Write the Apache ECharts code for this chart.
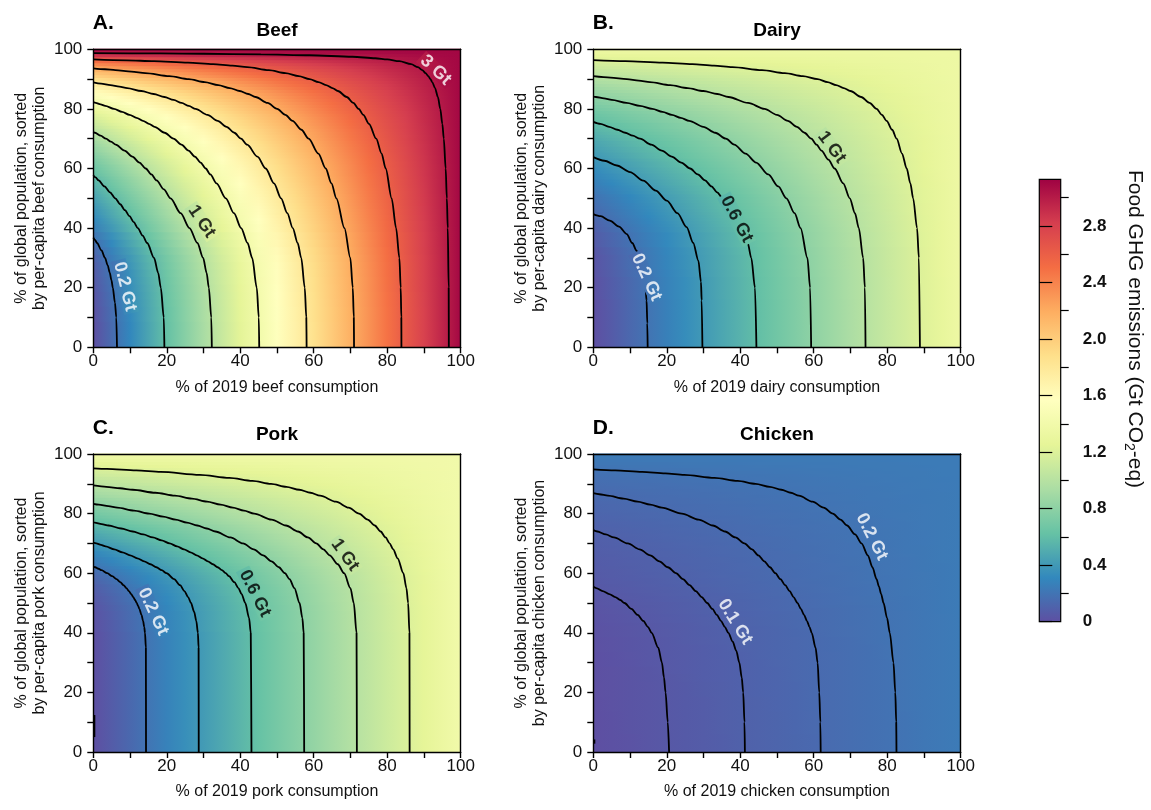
<!DOCTYPE html>
<html><head><meta charset="utf-8">
<script src="https://cdn.jsdelivr.net/npm/echarts@6/dist/echarts.min.js"></script>
<style>html,body{margin:0;padding:0;background:#fff}#c{width:1151px;height:810px}</style>
</head><body><div id="c"></div>
<script>
// ---------------- DATA ----------------
// population percentile rows (y) at which the left-edge value (x = 0 %) was read
const popLevels = [0,2.5,5,7.5,10,12.5,15,17.5,20,22.5,25,27.5,30,32.5,35,37.5,40,
  41,42,43,44,45,46,47,48,49,50,51,52,53,54,55,56,57,58,59,60,61,62,63,64,65,66,67,68,69,70,
  71,72,73,74,75,76,77,78,79,80,81,82,83,84,85,86,87,88,89,90,91,92,93,94,95,96,97,98,99,100];
// emissions (Gt CO2-eq) at x = 0 % for each popLevel; at x = 100 % every row equals the total
const beefEdge = [0,0,0,0,0.01,0.01,0.02,0.03,0.04,0.05,0.06,0.08,0.1,0.13,0.17,0.21,0.26,
  0.27,0.29,0.31,0.33,0.35,0.36,0.38,0.4,0.42,0.44,0.46,0.48,0.5,0.52,0.54,0.56,0.58,0.61,0.63,0.65,
  0.67,0.7,0.72,0.75,0.78,0.81,0.83,0.86,0.89,0.93,0.96,0.99,1.02,1.06,1.1,1.13,1.17,1.21,1.26,1.3,
  1.34,1.39,1.44,1.49,1.54,1.6,1.67,1.74,1.81,1.88,1.97,2.05,2.14,2.24,2.36,2.5,2.67,2.86,3.02,3.1];
const dairyEdge = [0,0,0,0,0,0,0,0.01,0.01,0.01,0.02,0.03,0.03,0.04,0.06,0.07,0.09,
  0.1,0.11,0.12,0.13,0.14,0.15,0.16,0.17,0.18,0.19,0.2,0.22,0.23,0.24,0.26,0.27,0.29,0.3,0.32,0.33,
  0.35,0.36,0.38,0.4,0.41,0.43,0.44,0.46,0.47,0.49,0.51,0.53,0.55,0.57,0.58,0.61,0.63,0.65,0.67,0.7,
  0.72,0.75,0.77,0.8,0.82,0.85,0.88,0.91,0.94,0.97,1.0,1.04,1.07,1.11,1.14,1.19,1.23,1.27,1.31,1.35];
const porkEdge = [0,0,0,0,0,0,0,0,0,0,0,0,0,0,0,0,0,
  0.01,0.01,0.01,0.01,0.02,0.02,0.02,0.03,0.03,0.04,0.05,0.05,0.06,0.07,0.08,0.09,0.11,0.12,0.13,0.15,
  0.17,0.19,0.22,0.24,0.26,0.29,0.31,0.34,0.36,0.39,0.42,0.45,0.47,0.5,0.53,0.56,0.6,0.63,0.66,0.69,
  0.72,0.76,0.79,0.82,0.85,0.89,0.92,0.95,0.98,1.02,1.05,1.08,1.12,1.15,1.19,1.23,1.26,1.3,1.34,1.39];
const chickenEdge = [0,0,0,0.001,0.001,0.001,0.002,0.002,0.003,0.003,0.004,0.005,0.006,0.007,0.009,0.011,0.014,
  0.015,0.016,0.018,0.02,0.022,0.024,0.026,0.028,0.03,0.032,0.035,0.038,0.041,0.045,0.048,0.052,0.055,0.057,0.06,0.062,
  0.064,0.066,0.068,0.07,0.072,0.075,0.077,0.08,0.082,0.085,0.088,0.092,0.095,0.098,0.102,0.105,0.109,0.113,0.117,0.12,
  0.125,0.129,0.133,0.137,0.142,0.146,0.151,0.155,0.161,0.166,0.172,0.179,0.186,0.193,0.201,0.209,0.217,0.226,0.234,0.242];
const beefTotal = 3.1, dairyTotal = 1.35, porkTotal = 1.394, chickenTotal = 0.242;

// contour lines [x %, y %]
const beefContours = [
 [[0,36.8],[0.46,36],[1.02,35],[2.24,32.5],[3.19,30],[3.92,27.5],[4.49,25],[4.94,22.5],[5.31,20],[5.89,15],[6.26,10],[6.45,0]],
 [[0,57.75],[0.63,57],[1.45,56],[3.04,54],[4.54,52],[5.98,50],[7.33,48],[8.61,46],[9.84,44],[11.0,42],[12.11,40],[13.43,37.5],[14.67,35],[16.54,30],[17.66,25],[18.37,20],[19.19,10],[19.35,0]],
 [[0,72.28],[0.46,72],[2.0,71],[3.44,70],[4.81,69],[6.11,68],[8.5,66],[10.63,64],[12.56,62],[14.27,60],[15.82,58],[17.23,56],[19.2,53],[21.03,50],[23.77,45],[26.18,40],[28.33,35],[29.9,30],[30.84,25],[31.44,20],[32.12,10],[32.26,0]],
 [[0,82.25],[0.67,82],[1.98,81.5],[3.25,81],[5.63,80],[7.83,79],[9.86,78],[11.76,77],[13.52,76],[15.15,75],[16.67,74],[19.41,72],[21.82,70],[23.99,68],[25.92,66],[27.65,64],[29.21,62],[30.6,60],[31.85,58],[33.54,55],[36.07,50],[38.28,45],[40.24,40],[41.98,35],[43.25,30],[44.49,20],[45.05,10],[45.16,0]],
 [[0,88.9],[2.1,88.5],[4.68,88],[7.11,87.5],[9.22,87],[13.1,86],[16.45,85],[19.35,84],[21.86,83],[24.04,82],[26.01,81],[27.83,80],[31.07,78],[33.86,76],[36.27,74],[38.37,72],[40.21,70],[41.87,68],[44.67,64],[46.93,60],[49.18,55],[51.11,50],[52.8,45],[54.29,40],[55.62,35],[56.6,30],[57.55,20],[57.98,10],[58.06,0]],
 [[0,93.6],[3.17,93.3],[6.02,93],[10.37,92.5],[14.16,92],[20.68,91],[25.98,90],[30.33,89],[34.02,88],[37.16,87],[39.85,86],[42.17,85],[44.17,84],[47.42,82],[50.04,80],[52.28,78],[54.22,76],[56.64,73],[58.62,70],[61.26,65],[63.26,60],[64.82,55],[66.16,50],[68.36,40],[69.96,30],[70.62,20],[70.91,10],[70.97,0]],
 [[0,96.6],[9.08,96.3],[16.51,96],[25.77,95.5],[32.62,95],[37.84,94.5],[41.89,94],[47.78,93],[52.31,92],[55.93,91],[58.87,90],[61.29,89],[63.34,88],[65.09,87],[66.58,86],[68.98,84],[70.78,82],[72.24,80],[73.49,78],[75.04,75],[77.0,70],[78.47,65],[79.59,60],[81.2,50],[82.42,40],[83.31,30],[83.67,20],[83.84,10],[83.87,0]],
 [[0,98.75],[18.23,98.6],[30.09,98.5],[45.62,98.3],[58.96,98],[70.56,97.5],[76.78,97],[80.01,96.6],[83.28,96],[86.51,95],[88.36,94],[89.54,93],[90.45,92],[91.17,91],[91.76,90],[92.25,89],[93.01,87],[93.79,84],[94.44,80],[95.0,75],[95.4,70],[95.91,60],[96.23,50],[96.48,40],[96.73,20],[96.77,0]]
];
const dairyContours = [
 [[0,44.7],[2,44],[4.5,42.5],[7,40.5],[9.1,38],[10.6,35],[11.8,32.4],[12.9,28.5],[13.6,24.6],[14.2,20],[14.5,15.7],[14.7,8],[14.8,0]],
 [[0,63.8],[3,62.6],[6.4,61],[10,58.8],[13.6,55.9],[17,52.6],[20,49.2],[22.9,45],[25.4,40.3],[27.2,35],[28.6,29.1],[29.3,22],[29.5,15.7],[29.7,0]],
 [[0,75.67],[1.94,75],[4.3,74],[6.55,73],[8.7,72],[10.75,71],[12.72,70],[15.78,68],[18.64,66],[21.36,64],[23.94,62],[26.36,60],[28.44,58],[30.41,56],[32.16,54],[33.71,52],[35.2,50],[36.44,48],[38.22,45],[40.47,40],[42.02,35],[43.0,30],[44.01,20],[44.4,0]],
 [[0,84.15],[0.68,84],[2.91,83.5],[5.04,83],[9.03,82],[12.7,81],[16.08,80],[18.83,79],[21.4,78],[23.81,77],[26.08,76],[29.95,74],[33.17,72],[36.11,70],[38.35,68],[41.44,65],[44.32,62],[47.62,58],[50.34,54],[52.56,50],[54.78,45],[56.42,40],[58.28,30],[59.01,20],[59.3,0]],
 [[0,90.98],[4.67,90.5],[9.12,90],[12.38,89.5],[15.41,89],[20.89,88],[25.7,87],[29.96,86],[33.76,85],[36.8,84],[42.11,82],[46.6,80],[49.98,78],[52.96,76],[55.42,74],[57.47,72],[59.34,70],[60.77,68],[62.1,66],[63.98,63],[65.7,60],[68.02,55],[69.81,50],[71.22,45],[72.27,40],[73.45,30],[73.92,20],[74.1,0]],
 [[0,96.35],[8.72,96],[18.86,95.5],[26.97,95],[32.85,94.5],[37.85,94],[45.91,93],[52.11,92],[57.04,91],[61.05,90],[63.75,89],[66.1,88],[68.16,87],[69.98,86],[72.91,84],[75.19,82],[77.11,80],[78.56,78],[79.84,76],[81.34,73],[82.57,70],[84.03,65],[85.3,60],[86.3,55],[87.06,50],[88.12,40],[88.62,30],[88.9,0]]
];
const porkContours = [
 [[0,62.26],[0.51,62],[1.42,61.5],[2.24,61],[3.79,60],[5.15,59],[6.32,58],[7.33,57],[8.22,56],[9.0,55],[9.69,54],[10.32,53],[10.88,52],[11.38,51],[11.81,50],[12.2,49],[12.55,48],[13.12,46],[13.55,44],[13.86,42],[14.07,40],[14.31,35],[14.35,0]],
 [[0,70.3],[0.81,70],[2.09,69.5],[3.34,69],[5.71,68],[7.93,67],[10.02,66],[11.98,65],[13.82,64],[15.56,63],[17.17,62],[18.62,61],[19.91,60],[22.01,58],[23.6,56],[24.82,54],[25.81,52],[26.59,50],[27.46,47],[28.03,44],[28.47,40],[28.66,35],[28.7,0]],
 [[0,77.1],[0.38,77],[2.29,76.5],[4.15,76],[7.59,75],[10.74,74],[13.59,73],[16.2,72],[18.58,71],[20.77,70],[22.8,69],[24.69,68],[26.46,67],[28.13,66],[29.7,65],[31.17,64],[32.55,63],[33.84,62],[35.0,61],[36.03,60],[36.93,59],[38.38,57],[39.5,55],[40.37,53],[41.36,50],[42.39,45],[42.86,40],[43.05,0]],
 [[0,83.28],[1.5,83],[4.08,82.5],[6.53,82],[11.08,81],[15.23,80],[19.0,79],[22.4,78],[25.49,77],[28.3,76],[30.88,75],[33.23,74],[37.32,72],[40.73,70],[43.67,68],[46.24,66],[48.51,64],[50.51,62],[52.15,60],[53.4,58],[54.74,55],[56.14,50],[56.9,45],[57.26,40],[57.4,0]],
 [[0,89.44],[3.56,89],[7.3,88.5],[10.73,88],[16.88,87],[22.2,86],[26.84,85],[30.96,84],[34.66,83],[37.99,82],[41.01,81],[43.77,80],[48.52,78],[52.44,76],[55.71,74],[58.42,72],[60.68,70],[62.63,68],[64.34,66],[66.53,63],[68.26,60],[69.98,55],[70.9,50],[71.65,40],[71.74,0]],
 [[0,95.2],[3.67,95],[11.69,94.5],[18.36,94],[28.99,93],[37.03,92],[43.33,91],[48.39,90],[52.56,89],[56.09,88],[59.12,87],[61.73,86],[66.04,84],[69.5,82],[72.34,80],[74.68,78],[76.61,76],[78.21,74],[79.55,72],[80.66,70],[81.62,68],[82.84,65],[84.39,60],[85.23,55],[85.69,50],[86.05,40],[86.1,0]],
 [[0.3,5],[0.3,12.4]]
];
const chickenContours = [
 [[0,55.44],[0.78,55],[2.55,54],[4.34,53],[5.98,52],[7.35,51],[8.48,50],[10.38,48],[12.08,46],[13.61,44],[14.87,42],[15.88,40],[17.68,35],[18.68,30],[19.24,25],[19.67,20],[20.27,10],[20.63,0]],
 [[0,74.47],[1.1,74],[3.4,73],[5.6,72],[9.4,70],[12.6,68],[15.5,66],[18.0,64],[20.3,62],[22.5,60],[24.4,58],[26.2,56],[27.9,54],[29.5,52],[31.0,50],[32.4,48],[33.6,46],[34.75,44],[35.8,42],[36.75,40],[37.95,37],[38.9,34],[39.75,30],[40.4,25],[40.8,20],[41.15,10],[41.26,0]],
 [[0,86.84],[1.65,86.5],[3.98,86],[8.24,85],[12.07,84],[15.52,83],[18.66,82],[24.1,80],[28.66,78],[32.54,76],[35.85,74],[38.68,72],[41.12,70],[43.2,68],[44.92,66],[46.55,64],[48.09,62],[49.55,60],[50.93,58],[52.22,56],[53.42,54],[54.53,52],[55.57,50],[56.51,48],[57.37,46],[58.15,44],[58.83,42],[59.44,40],[60.5,35],[61.05,30],[61.5,20],[61.8,10],[61.89,0]],
 [[0,94.83],[5.97,94.5],[13.29,94],[19.6,93.5],[24.72,93],[33.0,92],[39.28,91],[44.17,90],[48.05,89],[51.2,88],[53.77,87],[55.96,86],[59.67,84],[62.69,82],[65.19,80],[67.28,78],[69.06,76],[71.25,73],[73.0,70],[74.73,66],[75.97,62],[77.1,58],[77.75,55.5],[78.35,53],[79.0,50],[79.95,45],[80.7,40],[81.7,30],[82.2,20],[82.45,10],[82.52,0]],
 [[0.3,2.8],[0.3,4.2]]
];
// contour labels: [x, y, text, angle, colour]
const beefLabels = [[8.6,20.4,'0.2 Gt',-76,'#fff'],[29.5,42.2,'1 Gt',-56,'#000'],[93.2,93,'3 Gt',-43,'#fff']];
const dairyLabels = [[14.5,23.5,'0.2 Gt',-65,'#fff'],[39,43,'0.6 Gt',-62,'#000'],[64.9,67.1,'1 Gt',-53,'#000']];
const porkLabels = [[16.3,47.1,'0.2 Gt',-65,'#fff'],[44,53.2,'0.6 Gt',-63,'#000'],[68.5,66.1,'1 Gt',-54,'#000']];
const chickenLabels = [[38.6,43.7,'0.1 Gt',-58,'#fff'],[75.8,72.2,'0.2 Gt',-63,'#fff']];

const axisTickLabels = [0,20,40,60,80,100];
const colorMax = 3.13;
const cbMajor = [0,0.4,0.8,1.2,1.6,2.0,2.4,2.8];
const cbMinor = [0.2,0.6,1.0,1.4,1.8,2.2,2.6,3.0];

// ---------------- STYLE / RENDER ----------------
const FONT = '"Liberation Sans", Arial, Helvetica, sans-serif';
const LABEL_SIZE = 18;
const SPECTRAL_R = ['#5e4fa2','#3288bd','#66c2a5','#abdda4','#e6f598','#ffffbf','#fee08b','#fdae61','#f46d43','#d53e4f','#9e0142'];
const RGB = SPECTRAL_R.map(h => [parseInt(h.slice(1,3),16), parseInt(h.slice(3,5),16), parseInt(h.slice(5,7),16)]);
function cmap(v) {
  const t = Math.max(0, Math.min(1, v / colorMax));
  const s = t * (RGB.length - 1);
  const i = Math.min(Math.floor(s), RGB.length - 2);
  const f = s - i, a = RGB[i], b = RGB[i + 1];
  return 'rgb(' + [0,1,2].map(k => Math.round(a[k] + (b[k] - a[k]) * f)).join(',') + ')';
}
function rowStops(v, total) {
  const stops = [];
  for (let k = 0; k <= 20; k++) { const t = k / 20; stops.push({offset:t, color:cmap(v + (total - v) * t)}); }
  return stops;
}
function nearestEdge(edge, y) {
  let best = 0;
  popLevels.forEach((p, k) => { if (Math.abs(p - y) < Math.abs(popLevels[best] - y)) best = k; });
  return edge[best];
}
const measureCtx = document.createElement('canvas').getContext('2d');
measureCtx.font = 'bold ' + LABEL_SIZE + 'px ' + FONT;

const PW = 367.4, PH = 298;
const panels = [
  {key:'beef', title:'Beef', letter:'A.', left:93.3, top:49.3, edge:beefEdge, total:beefTotal, contours:beefContours, labels:beefLabels},
  {key:'dairy', title:'Dairy', letter:'B.', left:593.3, top:49.3, edge:dairyEdge, total:dairyTotal, contours:dairyContours, labels:dairyLabels},
  {key:'pork', title:'Pork', letter:'C.', left:93.3, top:454, edge:porkEdge, total:porkTotal, contours:porkContours, labels:porkLabels},
  {key:'chicken', title:'Chicken', letter:'D.', left:593.3, top:454, edge:chickenEdge, total:chickenTotal, contours:chickenContours, labels:chickenLabels}
];

const grid = [], xAxis = [], yAxis = [], series = [], graphic = [];
const tickFmt = v => (axisTickLabels.indexOf(v) >= 0 ? String(v) : '');
const lineBlack = {color:'#000', width:1.4};

panels.forEach((p, i) => {
  grid.push({left:p.left, top:p.top, width:PW, height:PH, containLabel:false});
  xAxis.push({
    gridIndex:i, type:'value', min:0, max:100, interval:10, position:'bottom', z:10,
    axisLine:{show:true, onZero:false, lineStyle:lineBlack},
    axisTick:{show:true, length:6, lineStyle:lineBlack},
    axisLabel:{formatter:tickFmt, fontSize:17, color:'#111', fontFamily:FONT, margin:6},
    splitLine:{show:false},
    name:'% of 2019 ' + p.key + ' consumption', nameLocation:'middle', nameGap:32,
    nameTextStyle:{fontSize:16, color:'#111', fontFamily:FONT}
  });
  xAxis.push({gridIndex:i, type:'value', min:0, max:100, position:'top', z:10,
    axisLine:{show:true, onZero:false, lineStyle:lineBlack}, axisTick:{show:false}, axisLabel:{show:false}, splitLine:{show:false}});
  yAxis.push({
    gridIndex:i, type:'value', min:0, max:100, interval:10, position:'left', z:10,
    axisLine:{show:true, onZero:false, lineStyle:lineBlack},
    axisTick:{show:true, length:6, lineStyle:lineBlack},
    axisLabel:{formatter:tickFmt, fontSize:17, color:'#111', fontFamily:FONT, margin:11},
    splitLine:{show:false},
    name:'% of global population, sorted\nby per-capita ' + p.key + ' consumption', nameLocation:'middle', nameGap:45,
    nameTextStyle:{fontSize:16, color:'#111', fontFamily:FONT, lineHeight:18}
  });
  yAxis.push({gridIndex:i, type:'value', min:0, max:100, position:'right', z:10,
    axisLine:{show:true, onZero:false, lineStyle:lineBlack}, axisTick:{show:false}, axisLabel:{show:false}, splitLine:{show:false}});

  const xi = 2 * i, yi = 2 * i;
  const total = p.total;
  // heat rows: each row spans half-way to its neighbours, coloured from its x=0 value to the total at x=100
  const rows = popLevels.map((y, k) => [
    k === 0 ? 0 : (popLevels[k - 1] + y) / 2,
    k === popLevels.length - 1 ? 100 : (y + popLevels[k + 1]) / 2,
    p.edge[k]
  ]);
  series.push({
    type:'custom', xAxisIndex:xi, yAxisIndex:yi, z:1, silent:true, data:rows,
    renderItem: (params, api) => {
      const lo = api.value(0), hi = api.value(1), v = api.value(2);
      const a = api.coord([0, hi]), b = api.coord([100, lo]);
      return {type:'rect', shape:{x:a[0], y:a[1] - 0.5, width:b[0] - a[0], height:b[1] - a[1] + 1},
        style:{fill:new echarts.graphic.LinearGradient(0, 0, 1, 0, rowStops(v, total))}};
    }
  });
  p.contours.forEach(pts => {
    series.push({type:'line', xAxisIndex:xi, yAxisIndex:yi, data:pts, showSymbol:false, symbol:'none',
      smooth:0.3, smoothMonotone:'x', z:5, silent:true, clip:true, lineStyle:{color:'#000', width:1.8}});
  });
  // inline-label gaps: a patch painted with the local heat colours under each label
  series.push({type:'custom', xAxisIndex:xi, yAxisIndex:yi, z:6, silent:true,
    data:p.labels.map(l => [l[0], l[1], l[3], measureCtx.measureText(l[2]).width]),
    renderItem: (params, api) => {
      const x = api.value(0), y = api.value(1), ang = api.value(2) * Math.PI / 180, tw = api.value(3);
      const c = api.coord([x, y]);
      const w = tw + 5, h = 15;
      const ux = Math.cos(ang), uy = -Math.sin(ang), vx = -uy, vy = ux;
      const pts = [[-1,-1],[1,-1],[1,1],[-1,1]].map(([s, t]) =>
        [c[0] + ux * s * w / 2 + vx * t * h / 2, c[1] + uy * s * w / 2 + vy * t * h / 2]);
      const v0 = nearestEdge(p.edge, y);
      const x0 = api.coord([0, y])[0], x1 = api.coord([100, y])[0];
      return {type:'polygon', shape:{points:pts},
        style:{fill:new echarts.graphic.LinearGradient(x0, 0, x1, 0, rowStops(v0, total), true)}};
    }});
  series.push({type:'scatter', xAxisIndex:xi, yAxisIndex:yi, symbolSize:0, z:8, silent:true,
    data:p.labels.map(l => ({name:l[2], value:[l[0], l[1]], label:{rotate:l[3], color:l[4]}})),
    label:{show:true, position:'inside', formatter:'{b}', fontSize:LABEL_SIZE, fontWeight:'bold', fontFamily:FONT}});

  graphic.push({type:'text', x:p.left - 0.5, y:p.top - 26, z:20, style:{text:p.letter, fill:'#000', fontSize:21, fontWeight:'bold', fontFamily:FONT, align:'left', textAlign:'left', verticalAlign:'middle', textVerticalAlign:'middle'}});
  graphic.push({type:'text', x:p.left + PW / 2, y:p.top - 18.8, z:20, style:{text:p.title, fill:'#000', fontSize:19, fontWeight:'bold', fontFamily:FONT, align:'center', textAlign:'center', verticalAlign:'middle', textVerticalAlign:'middle'}});
});

// colour bar
const cbi = panels.length;
grid.push({left:1039.3, top:179.3, width:21.4, height:442.4});
xAxis.push({gridIndex:cbi, type:'value', min:0, max:1, show:false});
yAxis.push({gridIndex:cbi, type:'value', min:0, max:colorMax, position:'right', z:10,
  axisLine:{show:false}, splitLine:{show:false},
  axisTick:{show:true, length:13, customValues:cbMajor, lineStyle:{color:'#000', width:1.2}},
  axisLabel:{show:true, customValues:cbMajor, margin:22, fontSize:17, fontWeight:'bold', color:'#111', fontFamily:FONT,
    formatter: v => (v === 0 ? '0' : v.toFixed(1))}});
yAxis.push({gridIndex:cbi, type:'value', min:0, max:colorMax, position:'right', z:10,
  axisLine:{show:false}, splitLine:{show:false}, axisLabel:{show:false},
  axisTick:{show:true, length:8, customValues:cbMinor, lineStyle:{color:'#000', width:1.2}}});
series.push({type:'custom', xAxisIndex:2 * cbi, yAxisIndex:2 * cbi, silent:true, z:3, data:[[0, colorMax]],
  renderItem: (params, api) => {
    const a = api.coord([0, colorMax]), b = api.coord([1, 0]);
    const stops = SPECTRAL_R.map((c, k) => ({offset:k / (SPECTRAL_R.length - 1), color:c}));
    return {type:'rect', shape:{x:a[0], y:a[1], width:b[0] - a[0], height:b[1] - a[1]},
      style:{fill:new echarts.graphic.LinearGradient(0, 1, 0, 0, stops), stroke:'#000', lineWidth:1.2}};
  }});
graphic.push({type:'text', x:1135, y:329, rotation:-Math.PI / 2, z:20,
  style:{text:'{a|Food GHG emissions (Gt CO}{s|2}{a|-eq)}', align:'center', textAlign:'center', verticalAlign:'middle', textVerticalAlign:'middle',
    rich:{a:{fontSize:21, fontFamily:FONT, fill:'#111', color:'#111', lineHeight:26},
          s:{fontSize:14, fontFamily:FONT, fill:'#111', color:'#111', lineHeight:14, verticalAlign:'bottom'}}}});

const chart = echarts.init(document.getElementById('c'), null, {renderer:'canvas'});
chart.setOption({animation:false, backgroundColor:'#fff', grid, xAxis, yAxis, series, graphic});
</script></body></html>
